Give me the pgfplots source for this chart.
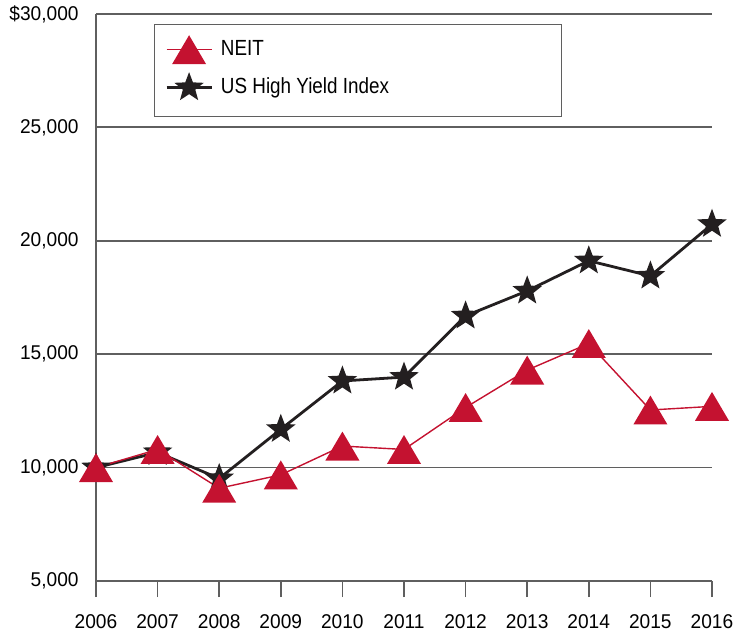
\documentclass[border=0pt]{standalone}
\usepackage{fontspec}
\setmainfont{Liberation Sans}
\newfontfamily\condfont[FakeStretch=0.86]{Liberation Sans}
\newfontfamily\tickfont[FakeStretch=0.96]{Liberation Sans}
\usepackage{pgfplots}
\pgfplotsset{compat=1.18}
\definecolor{neitred}{RGB}{196,18,48}
\definecolor{hyblack}{RGB}{35,31,32}
\definecolor{gridgray}{RGB}{95,95,95}

\pgfdeclareplotmark{ctri}{%
  \pgfpathmoveto{\pgfpoint{0pt}{0.85\pgfplotmarksize}}%
  \pgfpathlineto{\pgfpoint{\pgfplotmarksize}{-0.85\pgfplotmarksize}}%
  \pgfpathlineto{\pgfpoint{-\pgfplotmarksize}{-0.85\pgfplotmarksize}}%
  \pgfpathclose\pgfusepathqfill}

\pgfdeclareplotmark{fstar}{%
  \pgfpathmoveto{\pgfpointpolar{90}{\pgfplotmarksize}}%
  \pgfpathlineto{\pgfpointpolar{126}{0.42\pgfplotmarksize}}%
  \pgfpathlineto{\pgfpointpolar{162}{\pgfplotmarksize}}%
  \pgfpathlineto{\pgfpointpolar{198}{0.42\pgfplotmarksize}}%
  \pgfpathlineto{\pgfpointpolar{234}{\pgfplotmarksize}}%
  \pgfpathlineto{\pgfpointpolar{270}{0.42\pgfplotmarksize}}%
  \pgfpathlineto{\pgfpointpolar{306}{\pgfplotmarksize}}%
  \pgfpathlineto{\pgfpointpolar{342}{0.42\pgfplotmarksize}}%
  \pgfpathlineto{\pgfpointpolar{18}{\pgfplotmarksize}}%
  \pgfpathlineto{\pgfpointpolar{54}{0.42\pgfplotmarksize}}%
  \pgfpathclose\pgfusepathqfill}

\begin{document}
\begin{tikzpicture}
\begin{axis}[
  scale only axis, width=616bp, height=567bp,
  xmin=2006, xmax=2016, ymin=5000, ymax=30000,
  clip=false,
  axis x line=bottom, axis y line=left,
  axis line style={-, gridgray, line width=1.8bp},
  xtick={2006,...,2016},
  xticklabels={2006,2007,2008,2009,2010,2011,2012,2013,2014,2015,2016},
  ytick={5000,10000,15000,20000,25000,30000},
  yticklabels={{5,000},{10,000},{15,000},{20,000},{25,000},{\$30,000}},
  tick align=outside, major tick length=16bp,
  xtick style={gridgray, line width=1.5bp},
  ytick style={draw=none},
  ymajorgrids, grid style={gridgray, line width=1.8bp},
  tick label style={font=\tickfont\fontsize{20}{24}\selectfont},
  xticklabel style={yshift=-14bp},
  yticklabel style={xshift=2bp},
  reverse legend,
  legend cell align=left,
  legend style={draw=none, fill=none, inner sep=0pt, at={(0.112,0.9629)}, anchor=north west,
    font=\condfont\fontsize{22}{26}\selectfont, row sep=8bp, column sep=8bp,
    nodes={inner sep=0pt, text height=15bp, text depth=4bp}},
  legend image code/.code={\draw[mark repeat=2,mark phase=2,#1] plot coordinates {(0bp,0bp) (22.5bp,0bp) (45bp,0bp)};},
]
\draw[gridgray, line width=1.4bp] (axis description cs:0.0953,0.9811) rectangle (axis description cs:0.756,0.8189);
\addplot[hyblack, line width=2.8bp, mark=fstar, mark size=15.5bp, mark options={fill=hyblack, solid}]
  coordinates {(2006,10000) (2007,10670) (2008,9520) (2009,11690) (2010,13820) (2011,13990)
               (2012,16690) (2013,17790) (2014,19120) (2015,18450) (2016,20730)};
\addlegendentry{US High Yield Index}
\addplot[neitred, line width=1.4bp, mark=ctri, mark size=17bp, mark options={fill=neitred, solid}]
  coordinates {(2006,10000) (2007,10800) (2008,9090) (2009,9680) (2010,10950) (2011,10800)
               (2012,12650) (2013,14300) (2014,15470) (2015,12540) (2016,12700)};
\addlegendentry{NEIT}
\end{axis}
\pgfresetboundingbox
\path[use as bounding box] (current axis.south west) ++(-96bp,-51bp) rectangle ++(737bp,632bp);
\end{tikzpicture}
\end{document}
